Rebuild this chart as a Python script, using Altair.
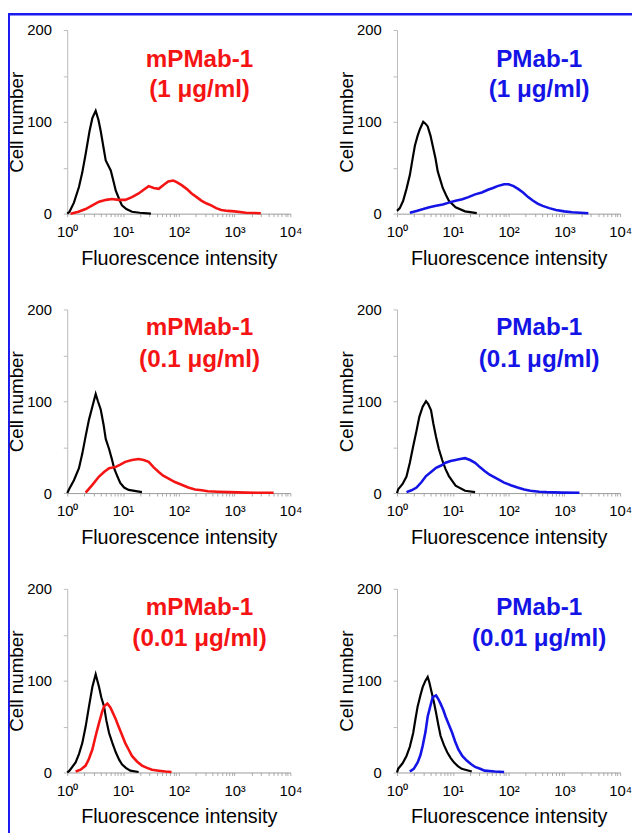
import altair as alt
import pandas as pd

# ---------------- data ----------------
# x given as log10(fluorescence intensity), y = cell number
p1_black_e = [0.0, 0.04, 0.12, 0.21, 0.27, 0.33, 0.40, 0.45, 0.51, 0.56, 0.60, 0.65, 0.69, 0.74, 0.78, 0.83, 0.87, 0.93, 0.98, 1.06, 1.16, 1.3, 1.5]
p1_black_v = [0, 2, 12, 29, 45, 65, 90, 104, 112, 102, 90, 72, 58, 52, 47, 35, 25, 16, 9, 5, 2, 1, 0]
p1_red_e = [0.06, 0.2, 0.33, 0.45, 0.57, 0.7, 0.8, 0.92, 1.04, 1.16, 1.28, 1.37, 1.46, 1.55, 1.64, 1.72, 1.81, 1.9, 1.97, 2.05, 2.14, 2.23, 2.32, 2.41, 2.5, 2.58, 2.67, 2.76, 2.88, 3.0, 3.2, 3.47]
p1_red_v = [0, 2, 5, 9, 13, 15, 16, 15, 15, 18, 22, 26, 30, 28, 27, 31, 35, 36, 34, 31, 27, 22, 18, 14, 11, 9, 6, 4, 3, 2.5, 1, 0.5]

p2_black_e = [0.0, 0.05, 0.11, 0.17, 0.23, 0.28, 0.32, 0.37, 0.41, 0.47, 0.51, 0.55, 0.60, 0.64, 0.69, 0.73, 0.78, 0.82, 0.88, 0.93, 1.05, 1.22, 1.43]
p2_black_v = [3, 6, 14, 27, 42, 60, 74, 85, 92, 100, 98, 95, 85, 74, 60, 46, 36, 28, 20, 14, 7, 2.5, 0.5]
p2_blue_e = [0.23, 0.35, 0.47, 0.58, 0.70, 0.82, 0.93, 1.05, 1.17, 1.28, 1.4, 1.52, 1.63, 1.72, 1.8, 1.92, 2.0, 2.09, 2.17, 2.26, 2.35, 2.44, 2.52, 2.61, 2.73, 2.85, 3.0, 3.14, 3.43]
p2_blue_v = [1, 3, 5, 7, 8.5, 10, 12, 14, 15.6, 18, 21, 23, 26, 28, 30, 32, 32, 30, 27, 23, 18, 14, 11, 8.5, 6, 4, 2.5, 1.5, 0.5]

p3_black_e = [0.0, 0.04, 0.12, 0.21, 0.27, 0.33, 0.39, 0.45, 0.51, 0.55, 0.60, 0.65, 0.69, 0.75, 0.80, 0.84, 0.90, 0.95, 1.02, 1.1, 1.34]
p3_black_v = [0, 5, 14, 27, 43, 62, 80, 94, 108, 100, 91, 75, 59, 48, 37, 27, 18, 11, 6, 3.5, 1]
p3_red_e = [0.33, 0.45, 0.57, 0.66, 0.75, 0.87, 0.95, 1.04, 1.16, 1.28, 1.37, 1.46, 1.55, 1.64, 1.72, 1.81, 1.93, 2.05, 2.17, 2.29, 2.41, 2.52, 2.7, 2.9, 3.2, 3.7]
p3_red_v = [0.5, 9, 18, 23, 27, 28.5, 31, 34, 36, 37, 36, 34, 28, 23, 19, 16, 12, 9, 6, 4, 3, 2, 1.5, 1, 0.5, 0.3]

p4_black_e = [0.0, 0.02, 0.10, 0.17, 0.23, 0.29, 0.35, 0.40, 0.46, 0.52, 0.56, 0.61, 0.65, 0.70, 0.75, 0.81, 0.87, 0.93, 1.05, 1.22, 1.4]
p4_black_v = [0, 4, 10, 18, 33, 51, 68, 83, 94, 100, 97, 90, 76, 61, 48, 36, 26, 18.5, 8, 2.5, 1]
p4_blue_e = [0.17, 0.26, 0.35, 0.44, 0.52, 0.61, 0.70, 0.79, 0.87, 0.96, 1.05, 1.13, 1.22, 1.31, 1.4, 1.49, 1.57, 1.66, 1.75, 1.84, 1.92, 2.04, 2.16, 2.28, 2.39, 2.55, 2.68, 2.95, 3.27]
p4_blue_v = [1, 3, 6, 12, 18.5, 23, 27.5, 30, 33, 35, 36, 37, 38, 36, 33, 28, 24, 20, 17, 14, 11.4, 8.5, 6, 4, 2.5, 1.5, 1, 0.5, 0.3]

p5_black_e = [0.0, 0.04, 0.15, 0.21, 0.27, 0.33, 0.39, 0.45, 0.51, 0.54, 0.57, 0.61, 0.66, 0.70, 0.75, 0.81, 0.87, 0.93, 0.98, 1.05, 1.13, 1.28]
p5_black_v = [0, 2, 11, 20, 32, 50, 72, 93, 107, 100, 93, 82, 72, 57, 43, 32, 22, 14, 9, 5, 2, 0.5]
p5_red_e = [0.15, 0.24, 0.33, 0.39, 0.45, 0.51, 0.57, 0.62, 0.66, 0.72, 0.77, 0.81, 0.87, 0.92, 0.98, 1.04, 1.10, 1.16, 1.25, 1.34, 1.43, 1.52, 1.64, 1.76, 1.87]
p5_red_v = [1, 3, 7.5, 15, 25, 40, 54, 65, 72, 75, 71, 66, 58, 50, 41, 32, 25, 18, 12, 7.5, 5, 3, 2, 1, 0.5]

p6_black_e = [0.0, 0.02, 0.10, 0.17, 0.23, 0.29, 0.33, 0.37, 0.42, 0.46, 0.51, 0.55, 0.58, 0.61, 0.66, 0.70, 0.74, 0.78, 0.84, 0.9, 0.96, 1.02, 1.09, 1.16, 1.34]
p6_black_v = [0, 4, 10, 18, 28, 43, 58, 72, 84, 93, 100, 104, 98, 90, 77, 65, 52, 40, 30, 22, 16, 11, 7, 4, 1]
p6_blue_e = [0.23, 0.30, 0.37, 0.42, 0.46, 0.51, 0.55, 0.60, 0.64, 0.70, 0.74, 0.78, 0.83, 0.87, 0.93, 0.99, 1.04, 1.1, 1.17, 1.25, 1.33, 1.4, 1.49, 1.57, 1.75, 1.92]
p6_blue_v = [1, 4, 11, 19, 29, 44, 61, 73, 82, 84, 80, 75, 68, 61, 52, 43, 34, 25, 18, 13, 9, 6, 4, 2, 1, 0.5]

antibodies = ["mPMab-1", "PMab-1"]
concentrations = ["(1 μg/ml)", "(0.1 μg/ml)", "(0.01 μg/ml)"]
x_tick_labels = ["10⁰", "10¹", "10²", "10³", "10⁴"]
y_tick_values = [0, 50, 100, 150, 200]

RED = "#f51414"
BLUE = "#1414e6"
FONT = "Liberation Sans"
W, H = 226, 186

x_tick_values = [m * 10 ** k for k in range(4) for m in range(1, 10)] + [10000]
label_expr = " : ".join(
    f"datum.value == {10 ** i} ? '{lab}'" for i, lab in enumerate(x_tick_labels)
) + " : ''"


def make_panel(be, bv, se, sv, color, name, conc, row, col):
    df_b = pd.DataFrame({"intensity": [10 ** e for e in be], "count": bv})
    df_s = pd.DataFrame({"intensity": [10 ** e for e in se], "count": sv})
    xenc = alt.X(
        "intensity:Q",
        scale=alt.Scale(type="log", domain=[1, 10000]),
        axis=alt.Axis(
            values=x_tick_values, labelExpr=label_expr, title="Fluorescence intensity",
            grid=False, domainColor="#9a9a9a", tickColor="#aaaaaa", tickSize=3,
            labelFont=FONT, labelFontSize=15, labelColor="black", labelPadding=8,
            labelOverlap=False, labelFlush=False, titleFont=FONT, titleFontSize=20,
            titleFontWeight="normal", titleColor="black", titlePadding=9,
        ),
    )
    yenc = alt.Y(
        "count:Q",
        scale=alt.Scale(domain=[0, 200]),
        axis=alt.Axis(
            values=y_tick_values, labelExpr="datum.value % 100 == 0 ? datum.label : ''",
            title="Cell number", grid=False, domainColor="#bbbbbb", tickColor="#bbbbbb",
            tickSize=4, labelFont=FONT, labelFontSize=15, labelColor="black",
            labelPadding=12, labelFlush=False, titleFont=FONT, titleFontSize=19,
            titleFontWeight="normal", titleColor="black", titlePadding=0,
        ),
    )
    black = alt.Chart(df_b).mark_line(color="black", strokeWidth=2.2).encode(x=xenc, y=yenc)
    colored = alt.Chart(df_s).mark_line(color=color, strokeWidth=2.6).encode(x=xenc, y=yenc)
    tx = 134 if col == 0 else 144
    y1, y2 = (37, 68) if row == 0 else (26, 58)
    t1 = alt.Chart(pd.DataFrame({"t": [name]})).mark_text(
        font=FONT, fontSize=24.5, fontWeight="bold", color=color, align="center", baseline="alphabetic"
    ).encode(text="t:N", x=alt.value(tx), y=alt.value(y1))
    t2 = alt.Chart(pd.DataFrame({"t": [conc]})).mark_text(
        font=FONT, fontSize=24.5, fontWeight="bold", color=color, align="center", baseline="alphabetic"
    ).encode(text="t:N", x=alt.value(tx), y=alt.value(y2))
    layers = [black, colored, t1, t2]
    if row == 0 and col == 0:
        border_df = pd.DataFrame({"b": [0]})
        left_border = alt.Chart(border_df).mark_rule(color="#1a1af0", strokeWidth=2).encode(
            x=alt.value(-59), y=alt.value(-17), y2=alt.value(815))
        top_border = alt.Chart(border_df).mark_rule(color="#1a1af0", strokeWidth=2.5).encode(
            y=alt.value(-16), x=alt.value(-60), x2=alt.value(575))
        layers += [left_border, top_border]
    return alt.layer(*layers).properties(width=W, height=H)


series = [
    (p1_black_e, p1_black_v, p1_red_e, p1_red_v, p2_black_e, p2_black_v, p2_blue_e, p2_blue_v),
    (p3_black_e, p3_black_v, p3_red_e, p3_red_v, p4_black_e, p4_black_v, p4_blue_e, p4_blue_v),
    (p5_black_e, p5_black_v, p5_red_e, p5_red_v, p6_black_e, p6_black_v, p6_blue_e, p6_blue_v),
]

panels = []
for r, s in enumerate(series):
    panels.append(make_panel(s[0], s[1], s[2], s[3], RED, antibodies[0], concentrations[r], r, 0))
    panels.append(make_panel(s[4], s[5], s[6], s[7], BLUE, antibodies[1], concentrations[r], r, 1))

chart = alt.concat(*panels, columns=2, spacing={"row": 97, "column": 108}, bounds="flush").properties(
    autosize=alt.AutoSizeParams(type="none"),
    padding={"left": 60, "top": 17, "right": 572, "bottom": 808},
).configure_view(stroke=None)

chart.save("out.html", embed_options={"renderer": "svg", "actions": False})
